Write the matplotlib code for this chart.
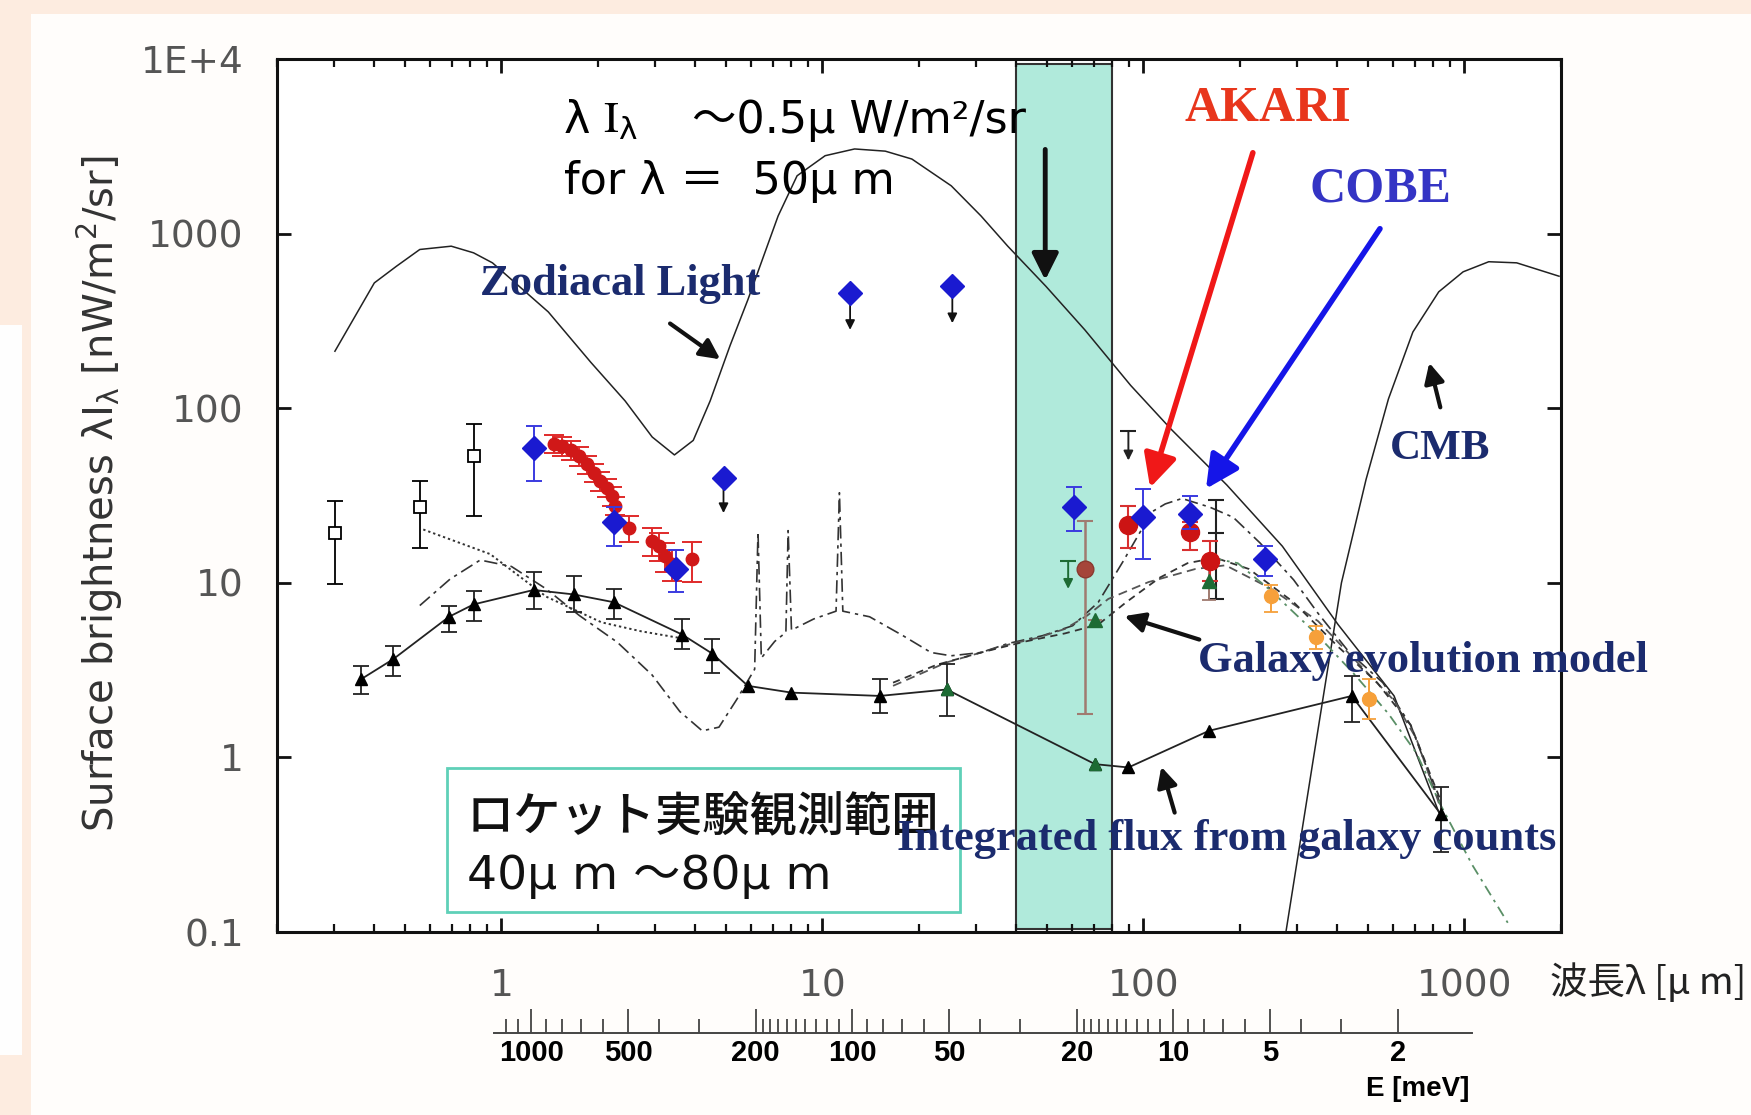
import numpy as np
import matplotlib.pyplot as plt
from matplotlib.patches import Rectangle
from matplotlib.ticker import FixedLocator, LogLocator, NullFormatter, NullLocator

plt.rcParams['mathtext.fontset'] = 'stix'
plt.rcParams['mathtext.default'] = 'regular'

JP = ['Noto Sans CJK JP', 'DejaVu Sans']
WIDE = ['DejaVu Sans', 'Noto Sans CJK JP']
SERIF = 'Liberation Serif'
NAVY = '#1b2b6e'

# ---- model curves (wavelength in micron, brightness in nW/m^2/sr) ----
zodi_wl = [0.303, 0.402, 0.471, 0.557, 0.698, 0.819, 0.938, 1.40, 1.90, 2.43, 2.95, 3.46,
           3.96, 4.47, 5.16, 5.86, 6.56, 7.28, 8.34, 10.2, 12.6, 15.7, 19.0, 25.2, 31.2,
           37.8, 49.7, 65.7, 91.3, 122, 182, 271, 404, 604, 832]
zodi_sb = [212, 522, 650, 811, 847, 776, 680, 356, 183, 110, 68.4, 54.0,
           65.4, 110, 229, 418, 743, 1262, 2143, 2793, 3053, 2966, 2673, 1878, 1262,
           847, 499, 281, 135, 75.8, 36.3, 16.2, 5.77, 2.25, 0.486]

cmb_wl = [278, 339, 414, 494, 580, 691, 832, 991, 1191, 1455, 1972]
cmb_sb = [0.1, 1.0, 10.0, 39.1, 113, 273, 464, 604, 690, 680, 570]

# near-IR dotted model
nir_wl = [0.571, 0.923, 1.38, 2.05, 2.72, 3.60]
nir_sb = [20.2, 14.6, 8.33, 5.94, 5.28, 4.83]

# dash-dot model with PAH features
pah_wl = [0.557, 0.692, 0.859, 1.075, 1.377, 1.751, 2.299, 2.946, 3.598, 4.224, 4.762, 5.413,
          6.152, 6.301, 6.454, 7.105, 7.697, 7.822, 8.012, 9.402, 11.03, 11.30, 11.58, 14.03,
          17.83, 21.79, 25.16, 31.23, 37.84, 48.52, 60.22, 72.36, 86.31, 106.3, 117.0, 131.9,
          161.2, 190.6, 231.0, 293.8, 350.2, 438.2, 557.0, 680.6, 844.8]
pah_sb = [7.41, 10.5, 13.5, 12.4, 9.24, 6.49, 4.56, 2.97, 1.83, 1.42, 1.49, 2.15,
          3.20, 19.6, 3.71, 4.62, 5.20, 19.9, 5.36, 6.21, 6.88, 32.8, 6.88, 6.39,
          4.98, 3.99, 3.82, 3.99, 4.49, 4.98, 5.68, 7.74, 13.2, 25.5, 28.3, 30.4,
          27.1, 23.7, 16.9, 10.4, 6.68, 3.99, 2.68, 1.53, 0.531]

# galaxy evolution models
gev1_wl = [16.60, 24.37, 31.23, 37.84, 46.61, 56.93, 66.81, 77.79, 103.8, 145.2, 180.3,
           250.2, 350.2, 474.8, 603.6, 708.6, 844.8]
gev1_sb = [2.57, 3.50, 3.99, 4.42, 4.83, 5.44, 6.49, 8.09, 10.1, 12.0, 12.6,
           9.24, 6.03, 3.35, 2.12, 1.28, 0.508]
gev2_wl = [16.60, 22.68, 31.23, 43.03, 56.93, 72.36, 88.40, 112.4, 137.3, 167.7, 213.2,
           293.8, 404.5, 535.1, 680.6, 844.8]
gev2_sb = [2.68, 3.39, 3.99, 4.62, 5.13, 5.77, 7.74, 10.7, 12.96, 13.9, 12.0,
           7.74, 4.30, 2.68, 1.53, 0.563]
gev3_wl = [162.4, 196.8, 250.2, 344.6, 456.0, 579.8, 708.6, 844.8, 1057, 1365]
gev3_sb = [13.9, 12.96, 8.97, 5.13, 2.97, 1.78, 1.06, 0.531, 0.243, 0.113]

# ---- integrated flux from galaxy counts ----
gc_wl = [0.365, 0.460, 0.687, 0.819, 1.26, 1.68, 2.24, 3.66, 4.54, 5.86, 8.01, 15.1,
         24.4, 70.7, 89.8, 160, 446, 845]
gc_sb = [2.80, 3.65, 6.39, 7.52, 9.10, 8.58, 7.74, 5.05, 3.93, 2.57, 2.35, 2.25,
         2.45, 0.915, 0.876, 1.42, 2.25, 0.472]
gc_hi = [3.35, 4.36, 7.41, 8.97, 11.5, 11.0, 9.23, 6.21, 4.76, np.nan, np.nan, 2.80,
         3.44, np.nan, np.nan, np.nan, 2.93, 0.68]
gc_lo = [2.31, 2.93, 5.20, 6.03, 7.08, 6.78, 6.21, 4.17, 3.06, np.nan, np.nan, 1.80,
         1.72, np.nan, np.nan, np.nan, 1.60, 0.286]
gc_green = [24.4, 70.7]

# ---- measurements ----
sq_wl = [0.303, 0.557, 0.819]
sq_sb = [19.3, 27.1, 53.3]
sq_hi = [29.5, 38.5, 81.6]
sq_lo = [9.80, 15.9, 24.0]

dirbe_wl = [1.26, 2.24, 3.51, 60.7, 100, 140, 239]
dirbe_sb = [59.0, 22.3, 12.0, 27.1, 23.7, 24.8, 13.7]
dirbe_hi = [79.3, 27.1, 15.5, 35.3, 34.3, 31.3, 16.2]
dirbe_lo = [38.5, 16.2, 8.84, 19.9, 13.7, 20.2, 10.9]

dirbe_ul_wl = [4.92, 12.2, 25.4]
dirbe_ul_sb = [39.7, 457, 499]
dirbe_ul_tip = [25.1, 281, 307]

nirs_wl = [1.457, 1.547, 1.643, 1.743, 1.849, 1.941, 2.035, 2.135, 2.212, 2.266, 2.494,
           2.946, 3.091, 3.243, 3.402, 3.930]
nirs_sb = [62.6, 60.8, 57.7, 53.3, 47.8, 42.8, 38.3, 35.1, 31.4, 27.6, 20.7,
           17.4, 16.3, 14.3, 12.8, 13.6]
nirs_err = [7.5, 7.3, 6.9, 6.4, 5.7, 5.1, 4.6, 4.2, 3.8, 3.3, 3.5,
            3.1, 3.0, 2.7, 2.6, 3.5]

akari_wl = [89.8, 140, 161]
akari_sb = [21.4, 19.6, 13.3]
akari_hi = [27.5, 22.3, 17.4]
akari_lo = [15.9, 15.5, 10.2]

brown_wl = [65.7]
brown_sb = [12.0]
brown_hi = [22.7]
brown_lo = [1.78]

bar_wl = [168]
bar_sb = [19.3]
bar_hi = [30.0]
bar_lo = [8.09]

black_ul_wl, black_ul_sb, black_ul_tip = 89.8, 73.6, 50.2
green_ul_wl, green_ul_sb, green_ul_tip = 58.3, 13.3, 9.23

green_wl = [70.7, 160.6]
green_sb = [6.11, 10.2]
green_hi = [6.11, 12.4]
green_lo = [6.11, 7.97]

blast_wl = [249, 346, 503]
blast_sb = [8.45, 4.9, 2.15]
blast_hi = [9.67, 5.68, 2.80]
blast_lo = [6.78, 4.17, 1.65]

band_wl = [40, 80]

e_major = [1000, 500, 200, 100, 50, 20, 10, 5, 2]
e_minor = [1200, 1100, 900, 800, 700, 600, 400, 300,
           190, 180, 170, 160, 150, 140, 130, 120, 110, 90, 80, 70, 60, 40, 30,
           19, 18, 17, 16, 15, 14, 13, 12, 11, 9, 8, 7, 6, 4, 3]


def yerr(v, lo, hi):
    v = np.asarray(v, float)
    return [v - np.asarray(lo, float), np.asarray(hi, float) - v]


fig = plt.figure(figsize=(17.51, 11.15), dpi=100, facecolor='#fdece0')
fig.patches.append(Rectangle((0.0177, 0), 0.99, 0.9874, transform=fig.transFigure,
                             facecolor='#fffdfb', edgecolor='none', zorder=-10))
fig.patches.append(Rectangle((0, 0.0538), 0.0126, 0.655, transform=fig.transFigure,
                             facecolor='#fefefe', edgecolor='none', zorder=-10))

ax = fig.add_axes([0.1582, 0.1641, 0.7333, 0.783])
ax.set_xscale('log')
ax.set_yscale('log')
ax.set_xlim(0.2, 2000)
ax.set_ylim(0.1, 1e4)

# observing band of the rocket experiment
ax.axvspan(band_wl[0], band_wl[1], ymin=0.003, ymax=0.994, facecolor='#b0eadb',
           edgecolor='#333333', lw=1.5, zorder=1)

# curves
ax.plot(zodi_wl, zodi_sb, color='#222222', lw=1.1, zorder=2)
ax.plot(cmb_wl, cmb_sb, color='#222222', lw=1.1, zorder=2)
ax.plot(nir_wl, nir_sb, color='#333333', lw=1.4, ls=(0, (1.2, 1.5)), zorder=2)
ax.plot(pah_wl, pah_sb, color='#333333', lw=1.2, ls=(0, (8, 3, 2, 3)), zorder=2)
ax.plot(gev1_wl, gev1_sb, color='#555555', lw=1.3, ls=(0, (5, 3)), zorder=2)
ax.plot(gev2_wl, gev2_sb, color='#333333', lw=1.3, ls=(0, (4, 3)), zorder=2)
ax.plot(gev3_wl, gev3_sb, color='#5a8f66', lw=1.3, ls=(0, (6, 3, 1.5, 3)), zorder=2)

# integrated galaxy counts
gc_wl_a = np.array(gc_wl)
gc_sb_a = np.array(gc_sb)
has_err = ~np.isnan(np.array(gc_hi))
ax.errorbar(gc_wl_a[has_err], gc_sb_a[has_err],
            yerr=yerr(gc_sb_a[has_err], np.array(gc_lo)[has_err], np.array(gc_hi)[has_err]),
            fmt='none', ecolor='#222222', elinewidth=1.3, capsize=6, capthick=1.3, zorder=3)
ax.plot(gc_wl, gc_sb, color='#222222', lw=1.3, marker='^', ms=9, mfc='black', mec='black', zorder=4)
is_green = np.isin(gc_wl_a, gc_green)
ax.plot(gc_wl_a[is_green], gc_sb_a[is_green], ls='none', marker='^', ms=9,
        mfc='#1d6b34', mec='#1d6b34', zorder=5)

# open squares
ax.errorbar(sq_wl, sq_sb, yerr=yerr(sq_sb, sq_lo, sq_hi), fmt='s', ms=9, mfc='white',
            mec='black', mew=1.3, ecolor='black', elinewidth=1.3, capsize=6, capthick=1.3, zorder=4)

# near-IR red points
ax.errorbar(nirs_wl, nirs_sb, yerr=nirs_err, fmt='o', ms=9, mfc='#d01818', mec='#d01818',
            ecolor='#e02a2a', elinewidth=1.4, capsize=7, capthick=1.4, zorder=4)

# blue diamonds
ax.errorbar(dirbe_wl, dirbe_sb, yerr=yerr(dirbe_sb, dirbe_lo, dirbe_hi), fmt='D', ms=12,
            mfc='#1a1ad0', mec='#1a1ad0', ecolor='#3a3ae0', elinewidth=1.4, capsize=6,
            capthick=1.4, zorder=6)
ax.plot(dirbe_ul_wl, dirbe_ul_sb, ls='none', marker='D', ms=12, mfc='#1a1ad0', mec='#1a1ad0', zorder=6)
for w, s, t in zip(dirbe_ul_wl, dirbe_ul_sb, dirbe_ul_tip):
    ax.annotate('', xy=(w, t), xytext=(w, s),
                arrowprops=dict(arrowstyle='-|>', color='#111111', lw=1.3, mutation_scale=14,
                                shrinkA=0, shrinkB=0), zorder=5)

# upper limits with a cap
for w, s, t, c in [(black_ul_wl, black_ul_sb, black_ul_tip, '#222222'),
                   (green_ul_wl, green_ul_sb, green_ul_tip, '#1d6b34')]:
    ax.plot([w], [s], marker='_', ms=12, mew=1.5, color=c, zorder=5)
    ax.annotate('', xy=(w, t), xytext=(w, s),
                arrowprops=dict(arrowstyle='-|>', color=c, lw=1.4, mutation_scale=14,
                                shrinkA=0, shrinkB=0), zorder=5)

# brown point with wide error range
ax.errorbar(brown_wl, brown_sb, yerr=yerr(brown_sb, brown_lo, brown_hi), fmt='o', ms=12,
            mfc='#a5453a', mec='#8a3a30', ecolor='#a07b70', elinewidth=1.8, capsize=6,
            capthick=1.5, zorder=5)

# black bar without marker
ax.errorbar(bar_wl, bar_sb, yerr=yerr(bar_sb, bar_lo, bar_hi), fmt='_', ms=12, mew=1.5,
            color='#222222', elinewidth=1.5, capsize=6, capthick=1.5, zorder=4)

# green triangles
ax.errorbar(green_wl, green_sb, yerr=yerr(green_sb, green_lo, green_hi), fmt='^', ms=10,
            mfc='#1d6b34', mec='#1d6b34', ecolor='#a07b70', elinewidth=1.4, capsize=5,
            capthick=1.3, zorder=5)

# AKARI far-IR
ax.errorbar(akari_wl, akari_sb, yerr=yerr(akari_sb, akari_lo, akari_hi), fmt='o', ms=13,
            mfc='#cc1414', mec='#cc1414', ecolor='#d83030', elinewidth=1.5, capsize=6,
            capthick=1.5, zorder=5)

# BLAST
ax.errorbar(blast_wl, blast_sb, yerr=yerr(blast_sb, blast_lo, blast_hi), fmt='o', ms=10,
            mfc='#f6a03a', mec='#f6a03a', ecolor='#f6a03a', elinewidth=1.4, capsize=5,
            capthick=1.3, zorder=5)

# axes styling
for sp in ax.spines.values():
    sp.set_linewidth(2.2)
    sp.set_color('#111111')
ax.xaxis.set_major_locator(FixedLocator([1, 10, 100, 1000]))
ax.xaxis.set_minor_locator(LogLocator(base=10, subs=np.arange(2, 10)))
ax.xaxis.set_minor_formatter(NullFormatter())
ax.set_xticklabels(['1', '10', '100', '1000'])
ax.set_yticks([0.1, 1, 10, 100, 1000, 1e4])
ax.set_yticklabels(['0.1', '1', '10', '100', '1000', '1E+4'])
ax.yaxis.set_minor_locator(NullLocator())
ax.tick_params(which='both', direction='in', top=True, right=True, colors='#111111',
               labelcolor='#555555')
ax.tick_params(which='major', length=10, width=2)
ax.tick_params(which='minor', length=6, width=1.6)
ax.tick_params(axis='x', which='major', pad=26, labelsize=27)
ax.tick_params(axis='y', which='major', pad=24, labelsize=27)

# photon energy scale
sec = ax.secondary_xaxis(-0.116, functions=(lambda w: 1239.84 / w, lambda e: 1239.84 / e))
sec.set_xticks(e_major, labels=[str(e) for e in e_major], fontsize=21, fontweight='bold',
               fontfamily='Liberation Sans')
sec.set_xticks(e_minor, minor=True)
sec.xaxis.set_minor_formatter(NullFormatter())
sec.tick_params(which='both', direction='in', color='#444444', width=1.3, pad=4)
sec.tick_params(which='major', length=17)
sec.tick_params(which='minor', length=10)
sec.spines['bottom'].set_bounds(1.17, 1310)
sec.spines['bottom'].set_color('#444444')
sec.spines['bottom'].set_linewidth(1.4)

fig.text(0.8098, 0.0233, 'E [meV]', fontsize=20, fontweight='bold', family='Liberation Sans',
         ha='center', va='center')
fig.text(0.8852, 0.1184, '波長λ [μ m]', fontsize=27, family=JP, color='#222222',
         ha='left', va='center')
fig.text(0.057, 0.557, 'Surface brightness λI$_λ$ [nW/m$^2$/sr]', rotation=90,
         fontsize=29, color='#333333', ha='center', va='center')

# annotations
T = ax.transAxes
ax.text(0.2235, 0.9297, 'λ', transform=T, family=WIDE, fontsize=32,
        ha='left', va='center', zorder=7)
ax.text(0.2539, 0.9297, r'$\mathrm{I}_λ$', transform=T, fontsize=32,
        ha='left', va='center', zorder=7)
ax.text(0.3235, 0.9297, '～0.5μ W/m²/sr', transform=T, family=WIDE, fontsize=32,
        ha='left', va='center', zorder=7)
ax.text(0.2235, 0.8593, 'for λ ＝  50μ m', transform=T, family=WIDE,
        fontsize=32, ha='left', va='center', zorder=7)
ax.text(0.267, 0.7417, 'Zodiacal Light', transform=T, family=SERIF, fontweight='bold',
        fontsize=32, color=NAVY, ha='center', va='center', zorder=7)
ax.text(0.7713, 0.9425, 'AKARI', transform=T, family=SERIF, fontweight='bold',
        fontsize=36, color='#e8361c', ha='center', va='center', zorder=7)
ax.text(0.859, 0.8504, 'COBE', transform=T, family=SERIF, fontweight='bold',
        fontsize=36, color='#3434c4', ha='center', va='center', zorder=7)
ax.text(0.906, 0.5537, 'CMB', transform=T, family=SERIF, fontweight='bold',
        fontsize=31, color=NAVY, ha='center', va='center', zorder=7)
ax.text(0.7174, 0.3107, 'Galaxy evolution model', transform=T, family=SERIF,
        fontweight='bold', fontsize=32, color=NAVY, ha='left', va='center', zorder=7)
ax.text(0.4826, 0.1061, 'Integrated flux from galaxy counts', transform=T, family=SERIF,
        fontweight='bold', fontsize=32, color=NAVY, ha='left', va='center', zorder=8)

ax.add_patch(Rectangle((0.1322, 0.023), 0.4, 0.165, transform=T, facecolor='white',
                       edgecolor='#5fd0b8', lw=2, zorder=6))
ax.text(0.1478, 0.1304, 'ロケット実験観測範囲', transform=T, family=JP, fontsize=34,
        fontweight='medium', color='#111111', ha='left', va='center', zorder=7)
ax.text(0.1478, 0.0639, '40μ m ～80μ m', transform=T, family=WIDE, fontsize=34,
        color='#111111', ha='left', va='center', zorder=7)


def arrow(tail, tip, color='#111111', lw=3, head=30):
    ax.annotate('', xy=tip, xytext=tail, xycoords='axes fraction', textcoords='axes fraction',
                arrowprops=dict(arrowstyle='-|>', color=color, lw=lw, mutation_scale=head,
                                shrinkA=0, shrinkB=0), zorder=7)


arrow((0.3061, 0.697), (0.3452, 0.656))
arrow((0.760, 0.8926), (0.680, 0.5090), color='#f01818', lw=4, head=50)
arrow((0.859, 0.8056), (0.7235, 0.5077), color='#1515e8', lw=4, head=50)
arrow((0.906, 0.601), (0.8974, 0.652))
arrow((0.7183, 0.3350), (0.66, 0.3619))
arrow((0.6991, 0.1368), (0.6887, 0.1893))
arrow((0.5983, 0.8964), (0.5983, 0.7468), lw=3.5, head=40)

fig.savefig('out.png', dpi=100, facecolor=fig.get_facecolor())
